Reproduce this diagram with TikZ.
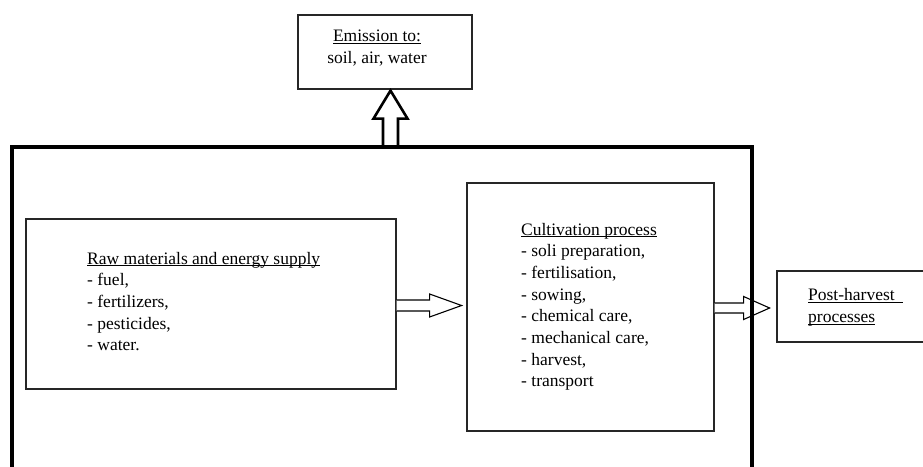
\documentclass[tikz,border=0pt]{standalone}
\usepackage{fontspec}
\setmainfont{Liberation Serif}
\usetikzlibrary{calc}
\newcommand\myul[1]{\setbox0=\hbox{#1}\rlap{\rule[-2.2pt]{\wd0}{0.9pt}}\box0}
\tikzset{
  box/.style={draw=black!85, line width=1.2pt, inner sep=0pt, fill=white},
  txt/.style={inner sep=0pt, anchor=base west, font=\fontsize{17.5}{21.7}\selectfont},
  blockarrow/.style={draw=black, line width=1.1pt, fill=white, line join=miter},
  frame/.style={draw=black, line width=4pt}
}
\begin{document}
\begin{tikzpicture}[x=1pt,y=-1pt]
\useasboundingbox (0,0) rectangle (923,466);
\clip (0,0) rectangle (923,466);
% outer thick frame corners (open at bottom)
\coordinate (fbl) at (11.5,475);
\coordinate (ftl) at (11.5,147);
\coordinate (ftr) at (752,147);
\coordinate (fbr) at (752,475);
% boxes
\node[box, minimum width=174pt, minimum height=74pt] (emis) at (385,52) {};
\node[box, minimum width=370pt, minimum height=170pt] (raw) at (211,304) {};
\node[box, minimum width=247pt, minimum height=248pt] (cult) at (590.5,307) {};
\node[box, minimum width=200pt, minimum height=71pt] (post) at (877,306.5) {};
% texts
\node[txt, anchor=base] (emistext) at (377,41.7) {\begin{tabular}[t]{@{}c@{}}\myul{Emission to:}\\ soil, air, water\end{tabular}};
\node[txt] (rawtext) at (87,264) {\begin{tabular}[t]{@{}l@{}}\myul{Raw materials and energy supply}\\ - fuel,\\ - fertilizers,\\ - pesticides,\\ - water.\end{tabular}};
\node[txt] (culttext) at (521,235) {\begin{tabular}[t]{@{}l@{}}\myul{Cultivation process}\\ - soli preparation,\\ - fertilisation,\\ - sowing,\\ - chemical care,\\ - mechanical care,\\ - harvest,\\ - transport\end{tabular}};
\node[txt] (posttext) at (808,300.5) {\begin{tabular}[t]{@{}l@{}}\myul{Post-harvest\ \ }\\ \myul{processes}\end{tabular}};
% block arrow raw -> cultivation
\coordinate (a1) at ($(raw.east)+(0,1.5)$);
\draw[blockarrow] ($(a1)+(0,-5.5)$) -- ++(33,0) -- ++(0,-6) -- ($(a1)+(65,0)$)
  -- ($(a1)+(33,11.5)$) -- ++(0,-6) -- ($(a1)+(0,5.5)$);
% block arrow cultivation -> post-harvest
\coordinate (a2) at ($(cult.east)+(0,1)$);
\draw[blockarrow] ($(a2)+(0,-5)$) -- ++(29,0) -- ++(0,-6.5) -- ($(a2)+(55,0)$)
  -- ($(a2)+(29,11.5)$) -- ++(0,-6.5) -- ($(a2)+(0,5)$);
% block arrow frame -> emission (up)
\coordinate (a3) at ($(emis.south)+(5.5,1)$);
\draw[blockarrow, line width=2.6pt] ($(a3 |- ftl)+(-7.5,-2)$) -- ($(a3)+(-7.5,28)$) -- ($(a3)+(-17,28)$) -- (a3)
  -- ($(a3)+(17,28)$) -- ($(a3)+(7.5,28)$) -- ($(a3 |- ftl)+(7.5,-2)$);
% frame drawn last
\draw[frame] (fbl) -- (ftl) -- (ftr) -- (fbr);
\end{tikzpicture}
\end{document}
